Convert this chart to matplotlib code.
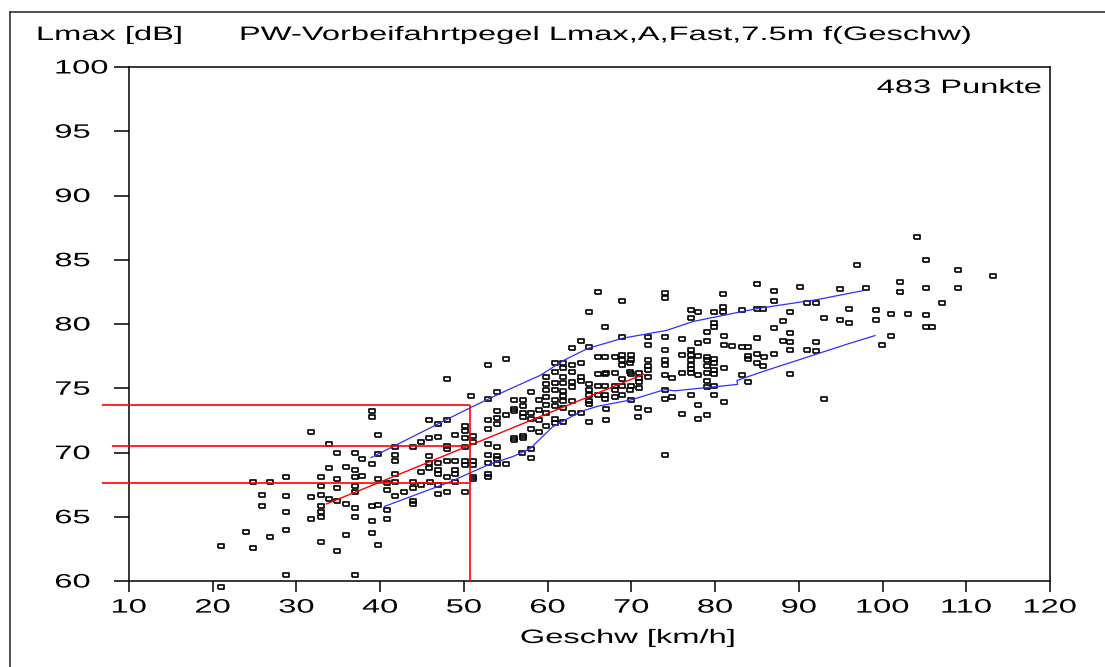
import matplotlib
matplotlib.use("Agg")
import matplotlib.pyplot as plt
from matplotlib.patheffects import AbstractPathEffect
from matplotlib.transforms import Affine2D
from matplotlib.lines import Line2D

plt.rcParams["font.family"] = ["Liberation Sans", "DejaVu Sans"]
plt.rcParams["font.size"] = 14

speed_a = [31.7, 33.9, 34.8, 37.0, 37.8, 39.0, 39.0, 39.7, 39.7, 39.0, 35.9, 33.9, 37.0, 28.8,
           32.9, 34.8, 37.0, 37.8, 24.8, 26.8, 32.9, 37.0, 39.7, 34.8, 37.0, 25.9, 28.8, 31.7,
           32.9, 33.9, 34.8, 35.9, 25.9, 32.9, 32.9, 32.9, 37.0, 28.8, 31.7, 37.0, 39.0, 39.7,
           39.0, 28.8, 24.0, 26.8, 24.8, 21.0, 35.9, 39.0, 32.9, 34.8, 39.7, 28.8, 37.0, 21.0]
level_a = [71.6, 70.7, 70.0, 70.0, 69.5, 72.8, 73.2, 71.4, 69.9, 69.1, 68.9, 68.8, 68.6, 68.1,
           68.1, 67.9, 68.1, 68.2, 67.7, 67.7, 67.4, 67.4, 67.9, 67.2, 66.9, 66.7, 66.6, 66.5,
           66.7, 66.4, 66.2, 66.0, 65.8, 65.8, 65.4, 65.0, 65.7, 65.4, 64.8, 65.0, 65.8, 65.9,
           64.7, 64.0, 63.8, 63.4, 62.6, 62.7, 63.6, 63.7, 63.0, 62.3, 62.8, 60.5, 60.5, 59.5]

speed_b = [40.8, 40.8, 40.8, 40.8, 41.8, 41.8, 41.8, 41.8, 41.8, 41.8, 42.8, 43.9, 43.9, 43.9,
           43.9, 43.9, 44.9, 44.9, 44.9, 45.8, 45.8, 45.8, 45.8, 45.8, 45.9, 46.9, 46.9, 46.9,
           46.9, 46.9, 46.9, 46.9, 48.0, 48.0, 48.0, 48.0, 48.0, 48.0, 48.0, 48.9, 48.9, 48.9,
           48.9, 48.9, 50.1, 50.1, 50.1, 50.1, 50.1, 50.1, 50.1, 50.8]
level_b = [67.6, 67.1, 65.5, 64.8, 70.4, 69.8, 69.3, 68.3, 67.7, 66.6, 66.9, 70.4, 67.7, 67.2,
           66.2, 66.0, 70.8, 68.5, 67.5, 72.5, 71.1, 69.7, 69.2, 68.8, 67.7, 72.2, 71.2, 69.2,
           68.6, 68.3, 67.5, 66.8, 75.7, 72.5, 70.5, 70.3, 69.3, 68.1, 66.9, 71.4, 69.3, 68.6,
           68.3, 67.7, 72.1, 71.7, 71.1, 70.4, 69.3, 69.0, 66.9, 74.4]

speed_c = [51.1, 51.1, 51.1, 51.1, 51.1, 51.1,
           52.9, 52.9, 52.9, 52.9, 52.9, 52.9, 52.9, 52.9, 52.9,
           54.0, 54.0, 54.0, 54.0, 54.0, 54.0, 54.0, 54.0,
           55.0, 55.0, 55.0,
           56.0, 56.0, 56.0, 56.0, 56.0, 56.9,
           57.1, 57.1, 57.1, 57.1, 57.1, 57.1,
           58.0, 58.0, 58.0, 58.0, 58.0, 58.0,
           59.0, 59.0, 59.0, 59.0,
           59.8, 59.8, 59.8, 59.8, 59.8, 59.8, 59.8]
level_c = [71.3, 70.8, 69.3, 69.0, 68.1, 67.9,
           76.8, 74.2, 72.5, 71.8, 70.7, 69.8, 69.2, 68.3, 68.1,
           74.7, 73.2, 72.7, 72.2, 70.4, 69.7, 69.5, 69.1,
           77.3, 72.9, 69.1,
           74.1, 73.4, 73.2, 71.1, 71.0, 70.0,
           74.1, 73.6, 73.1, 72.8, 71.3, 71.1,
           74.7, 73.1, 72.6, 71.8, 70.3, 69.6,
           74.1, 73.3, 72.5, 71.6,
           75.9, 75.3, 74.9, 74.3, 73.7, 73.1, 72.1]

speed_d = [60.9, 60.9, 60.9, 60.9, 60.9, 60.9, 60.9, 60.9,
           61.8, 61.8, 61.8, 61.8, 61.8, 61.8, 61.8, 61.8, 61.8,
           62.9, 62.9, 62.9, 62.9, 62.9, 62.9, 62.9,
           64.0, 64.0, 64.0, 64.0, 64.0,
           64.9, 64.9, 64.9, 64.9, 64.9, 64.9, 64.9, 64.9,
           66.0, 66.0, 66.0, 66.0, 66.0,
           66.9, 66.9, 66.9, 66.9, 66.9, 66.9,
           67.0, 67.0, 67.0,
           68.0, 68.0, 68.0, 68.0, 68.0,
           68.9, 68.9, 68.9, 68.9, 68.9, 68.9, 68.9, 68.9,
           69.8, 69.8, 69.8]
level_d = [77.0, 76.3, 75.4, 74.9, 74.1, 73.6, 72.6, 72.3,
           77.0, 76.6, 75.9, 75.4, 74.8, 74.4, 74.0, 73.5, 72.4,
           78.1, 76.8, 76.3, 75.5, 75.1, 74.0, 73.1,
           78.7, 77.0, 75.9, 75.6, 73.1,
           80.9, 78.2, 75.3, 74.9, 74.5, 74.0, 73.8, 72.4,
           82.5, 77.4, 76.1, 75.2, 74.5,
           79.8, 77.4, 76.1, 75.2, 74.5, 74.2,
           76.2, 73.4, 72.5,
           77.4, 76.2, 75.2, 74.9, 74.3,
           81.8, 79.0, 77.6, 77.2, 76.8, 75.7, 75.2, 74.5,
           77.0, 76.3, 74.9]

speed_e = [70.0, 70.0, 70.0, 70.0, 70.0, 70.8, 70.8, 70.9, 70.9, 70.9, 70.9,
           72.0, 72.0, 72.0, 72.0, 72.0, 72.0, 72.0,
           74.0, 74.0, 74.0, 74.0, 74.0, 74.0, 74.0, 74.0, 74.0, 74.0,
           74.9, 74.9, 76.0, 76.0, 76.0, 76.0,
           77.1, 77.1, 77.1, 77.1, 77.1, 77.1, 77.1, 77.1, 77.1,
           77.9, 77.9, 77.9, 77.9, 77.9, 77.9,
           79.0, 79.0, 79.0, 79.0, 79.0, 79.0, 79.0, 79.0, 79.0,
           79.9, 79.9, 79.9, 79.9, 79.9, 79.9, 79.9, 79.9, 79.9]
level_e = [77.6, 77.2, 76.1, 75.2, 74.1, 73.5, 72.8, 76.2, 75.8, 75.5, 75.0,
           79.0, 78.4, 77.2, 76.7, 76.4, 75.9, 73.3,
           82.4, 82.0, 79.0, 78.0, 77.2, 76.8, 76.0, 74.9, 74.2, 69.8,
           75.8, 74.3, 78.8, 77.6, 76.2, 73.0,
           81.1, 80.5, 78.0, 77.6, 77.2, 76.8, 76.5, 76.2, 74.5,
           80.9, 78.5, 77.5, 76.0, 73.7, 72.6,
           79.4, 78.7, 77.4, 77.2, 76.7, 76.2, 75.6, 75.1, 72.9,
           80.9, 80.1, 79.8, 77.3, 77.0, 76.4, 76.1, 75.2, 74.5]

speed_f = [80.9, 80.9, 80.9, 81.1, 81.1, 81.1, 81.1, 82.0, 83.2, 83.2, 83.2,
           83.9, 83.9, 83.9, 83.9, 85.0, 85.0, 85.0, 85.0, 85.0, 85.7, 85.7, 85.9,
           87.0, 87.0, 87.0, 87.0, 88.1, 88.1, 89.0, 89.0, 89.0, 89.0, 89.0, 90.1,
           91.0, 91.0, 92.0, 92.0, 92.0, 93.0, 93.0, 94.9, 94.9, 96.0, 96.0, 96.9,
           98.0, 99.2, 99.2, 99.9, 101.0, 101.0, 102.1, 102.1, 103.0, 104.1,
           105.2, 105.2, 105.2, 105.2, 105.9, 107.1, 109.0, 109.0, 113.2]
level_f = [82.3, 81.3, 80.9, 79.1, 78.4, 76.6, 73.9, 78.3, 81.1, 78.2, 76.0,
           78.2, 77.5, 77.3, 75.5, 83.1, 81.2, 78.9, 77.7, 77.0, 81.2, 76.7, 77.4,
           82.6, 81.8, 79.7, 77.7, 80.2, 78.7, 80.9, 79.3, 78.6, 78.0, 76.1, 82.9,
           81.6, 78.0, 81.6, 78.6, 77.9, 80.5, 74.2, 82.7, 80.3, 81.2, 80.1, 84.6,
           82.8, 81.1, 80.3, 78.4, 80.8, 79.1, 83.3, 82.5, 80.8, 86.8,
           85.0, 82.8, 80.7, 79.8, 79.8, 81.6, 84.2, 82.8, 83.7]

# blue band (upper / lower) and red regression
upper_speed = [38.9, 45.0, 50.8, 55.0, 59.1, 62.0, 64.8, 69.0, 74.2, 77.4, 85.0, 92.2, 97.7]
upper_level = [69.6, 71.6, 73.5, 74.8, 76.0, 77.2, 78.1, 78.9, 79.5, 80.2, 81.2, 81.9, 82.6]
lower_speed = [40.5, 48.3, 53.1, 55.9, 57.9, 60.6, 64.0, 66.0, 70.0, 74.0, 75.2, 82.7, 82.6, 85.7, 96.1, 99.1]
lower_level = [65.8, 67.7, 69.1, 69.7, 70.3, 72.0, 73.2, 73.6, 74.1, 74.9, 74.8, 75.3, 75.6, 76.3, 78.5, 79.1]
reg_speed = [33.6, 71.5]
reg_level = [66.0, 76.1]

# reading at 50 km/h
ref_speed = 50.7
ref_levels = [73.7, 70.5, 67.6]

xticks = [10, 20, 30, 40, 50, 60, 70, 80, 90, 100, 110, 120]
yticks = [60, 65, 70, 75, 80, 85, 90, 95, 100]


class Wide(AbstractPathEffect):
    # the scan is stretched sideways, so letters come out wider than tall
    def __init__(self, ha="left", sx=1.68):
        super().__init__()
        self.ha = ha
        self.sx = sx

    def draw_path(self, renderer, gc, tpath, affine, rgbFace=None):
        if len(tpath.vertices) == 0:
            return
        ext = tpath.get_extents()
        ref = {"left": ext.x0, "center": (ext.x0 + ext.x1) / 2, "right": ext.x1}[self.ha]
        stretch = Affine2D().translate(-ref, 0).scale(self.sx, 1).translate(ref, 0)
        renderer.draw_path(gc, tpath, stretch + affine, rgbFace)


W, H = 1105, 667
fig = plt.figure(figsize=(W / 100, H / 100), dpi=100)
ax = fig.add_axes([129 / W, 1 - 581 / H, 921 / W, 514 / H])

box = [(-1, -0.7), (1, -0.7), (1, 0.7), (-1, 0.7), (-1, -0.7)]
for sp, lv in [(speed_a, level_a), (speed_b, level_b), (speed_c, level_c),
               (speed_d, level_d), (speed_e, level_e), (speed_f, level_f)]:
    ax.plot(sp, lv, ls="none", marker=box, ms=4.8, mfc="none", mec="black",
            mew=1.2, clip_on=False, zorder=2)

ax.plot(upper_speed, upper_level, color="#2f2fff", lw=0.9, zorder=3)
ax.plot(lower_speed, lower_level, color="#2f2fff", lw=0.9, zorder=3)
ax.plot(reg_speed, reg_level, color="red", lw=1.0, zorder=3)

# horizontal reading lines start a bit left of the axis
ax.hlines(ref_levels, [6.8, 8.0, 6.8], ref_speed, color="red", lw=1.2, clip_on=False, zorder=3)
ax.vlines(ref_speed, 60, max(ref_levels), color="red", lw=1.2, zorder=3)

ax.set_xlim(10, 120)
ax.set_ylim(60, 100)
ax.set_xticks(xticks)
ax.set_yticks(yticks)
for sp in ax.spines.values():
    sp.set_linewidth(1.1)
ax.tick_params(axis="y", direction="out", length=10.8, width=1.1, pad=42.5)
ax.tick_params(axis="x", direction="out", length=7.9, width=1.1, pad=5.5)
for t in ax.yaxis.get_major_ticks():
    t.label1.set_horizontalalignment("left")
    t.label1.set_path_effects([Wide("left")])
for t in ax.xaxis.get_major_ticks():
    t.label1.set_path_effects([Wide("center")])

ax.set_xlabel("Geschw [km/h]", va="baseline", path_effects=[Wide("center")])
ax.xaxis.set_label_coords((628 - 129) / 921, (581 - 643) / 514)
ax.set_ylabel("Lmax [dB]", rotation=0, ha="left", va="baseline", path_effects=[Wide("left")])
ax.yaxis.set_label_coords((37 - 129) / 921, (581 - 40) / 514)
ax.set_title("PW-Vorbeifahrtpegel Lmax,A,Fast,7.5m f(Geschw)", loc="left", pad=0,
             x=(240 - 129) / 921, y=(581 - 40) / 514, fontsize=14, path_effects=[Wide("left")])
ax.text((1042 - 129) / 921, (581 - 93) / 514, "483 Punkte", transform=ax.transAxes,
        ha="right", va="baseline", path_effects=[Wide("right")])

# frame of the scanned page
fig.add_artist(Line2D([10 / W, 10 / W], [0, 1 - 12 / H], color="#333333", lw=1.2))
fig.add_artist(Line2D([10 / W, 1], [1 - 12 / H, 1 - 12 / H], color="#333333", lw=1.2))

fig.savefig("out.png", dpi=100)
